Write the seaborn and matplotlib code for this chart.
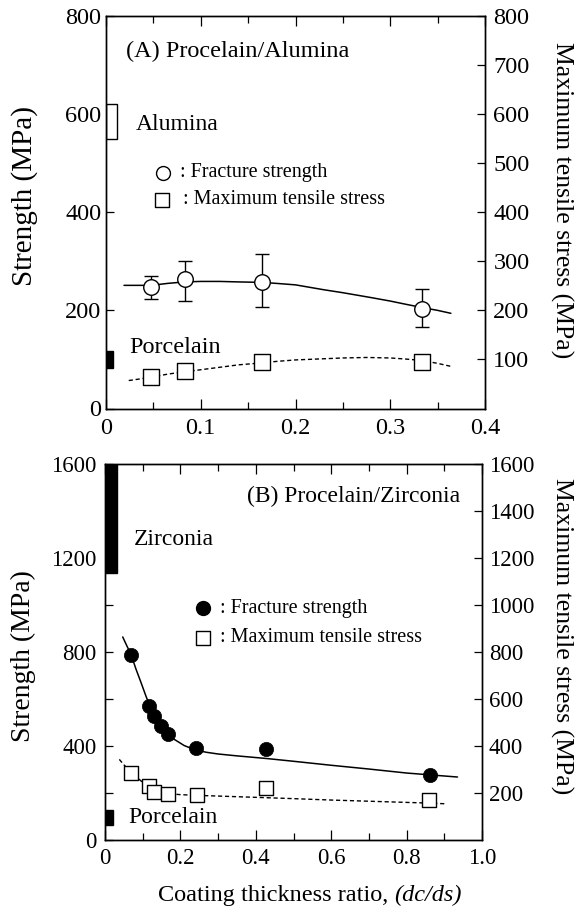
import matplotlib
matplotlib.use("Agg")
import matplotlib.pyplot as plt
import seaborn as sns
import numpy as np
from matplotlib.ticker import MultipleLocator

# ---------------- data ----------------
# Panel A: Porcelain / Alumina
A_x = [0.048, 0.083, 0.165, 0.333]
A_strength = [248, 263, 257, 203]
A_upper = [270, 301, 314, 243]
A_lower = [224, 219, 207, 166]
A_stress = [65, 76, 95, 94]
A_fit_x = [0.019, 0.035, 0.048, 0.065, 0.083, 0.10, 0.12, 0.14, 0.165, 0.18, 0.20, 0.215, 0.23,
           0.25, 0.265, 0.28, 0.30, 0.315, 0.333, 0.35, 0.364]
A_fit_y = [251, 251, 251, 255, 258, 259, 259, 258, 257, 255, 252, 247, 242,
           236, 231, 226, 219, 213, 206, 200, 194]
A_dash_x = [0.024, 0.035, 0.048, 0.065, 0.083, 0.10, 0.12, 0.14, 0.165, 0.18, 0.20, 0.225,
            0.25, 0.275, 0.30, 0.315, 0.333, 0.35, 0.366]
A_dash_y = [57, 60, 64, 70, 75, 79, 84, 89, 93, 96, 99, 101,
            103, 104, 103, 101, 98, 92, 85]
A_mat_low = [550, 83]
A_mat_high = [620, 117]

# Panel B: Porcelain / Zirconia
B_x = [0.069, 0.118, 0.131, 0.149, 0.166, 0.241, 0.427, 0.863]
B_strength = [788, 571, 528, 485, 450, 391, 388, 277]
B_sq_x = [0.069, 0.118, 0.131, 0.168, 0.244, 0.427, 0.860]
B_stress = [286, 228, 205, 197, 191, 220, 171]
B_fit_x = [0.047, 0.058, 0.069, 0.082, 0.096, 0.108, 0.118, 0.131, 0.149, 0.166, 0.184, 0.21,
           0.241, 0.27, 0.30, 0.35, 0.427, 0.50, 0.60, 0.70, 0.80, 0.863, 0.935]
B_fit_y = [864, 826, 790, 728, 668, 615, 573, 528, 484, 450, 428, 402,
           382, 373, 366, 358, 347, 335, 318, 302, 285, 277, 268]
B_dash_x = [0.038, 0.05, 0.069, 0.085, 0.10, 0.115, 0.13, 0.15, 0.168, 0.20, 0.244, 0.30,
            0.427, 0.50, 0.60, 0.70, 0.80, 0.86, 0.905]
B_dash_y = [343, 320, 290, 266, 245, 227, 212, 203, 197, 193, 190, 187,
            180, 176, 170, 165, 160, 157, 154]
B_mat_low = [1135, 64]
B_mat_high = [1600, 128]

# ---------------- styling ----------------
sns.set_theme(style="ticks")
plt.rcParams["font.family"] = ["Liberation Serif", "DejaVu Serif"]
plt.rcParams["axes.linewidth"] = 1.0
plt.rcParams["axes.edgecolor"] = "black"
plt.rcParams["text.color"] = "black"
plt.rcParams["axes.labelcolor"] = "black"
plt.rcParams["xtick.color"] = "black"
plt.rcParams["ytick.color"] = "black"

W, H = 576, 911
fig = plt.figure(figsize=(W / 100, H / 100), dpi=100)
ax1 = fig.add_axes([106 / W, 1 - 408.5 / H, 379 / W, 392.5 / H])
ax2 = fig.add_axes([105 / W, 1 - 840 / H, 377 / W, 376 / H])

k = "black"

# ---------------- panel A ----------------
ax1.set_xlim(0, 0.4)
ax1.set_ylim(0, 800)
ax1.bar([0, 0], np.array(A_mat_high) - np.array(A_mat_low), bottom=A_mat_low,
        width=[0.0118, 0.0075], align="edge", color=["white", "black"],
        edgecolor="black", linewidth=1.0, zorder=2)
sns.lineplot(x=A_fit_x, y=A_fit_y, ax=ax1, color=k, linewidth=1.1, zorder=2)
sns.lineplot(x=A_dash_x, y=A_dash_y, ax=ax1, color=k, linewidth=1.0,
             linestyle=(0, (3, 2)), zorder=2)
yerr = [np.array(A_strength) - np.array(A_lower), np.array(A_upper) - np.array(A_strength)]
ax1.errorbar(A_x, A_strength, yerr=yerr, fmt="none", ecolor=k, elinewidth=1.0,
             capsize=5, capthick=1.0, zorder=3)
sns.scatterplot(x=A_x, y=A_strength, ax=ax1, marker="o", s=125, facecolor="white",
                edgecolor=k, linewidth=1.0, zorder=4)
sns.scatterplot(x=A_x, y=A_stress, ax=ax1, marker="s", s=120, facecolor="white",
                edgecolor=k, linewidth=1.0, zorder=4)

ax1.set_xticks([0, 0.1, 0.2, 0.3, 0.4])
ax1.set_xticklabels(["0", "0.1", "0.2", "0.3", "0.4"])
ax1.xaxis.set_minor_locator(MultipleLocator(0.05))
ax1.set_yticks([0, 200, 400, 600, 800])
ax1.tick_params(axis="x", which="both", direction="in", top=True, labelsize=17.5, pad=6.5,
                width=0.9, color=k)
ax1.tick_params(axis="x", which="major", length=7)
ax1.tick_params(axis="x", which="minor", length=5)
ax1.tick_params(axis="y", which="both", direction="in", labelsize=17.5, pad=3.5,
                length=6, width=0.9)
ax1r = ax1.twinx()
ax1r.set_ylim(0, 800)
ax1r.set_yticks([100, 200, 300, 400, 500, 600, 700, 800])
ax1r.tick_params(axis="y", direction="in", labelsize=17.5, pad=6, length=6, width=0.9)
ax1r.set_ylabel("")

ax1.text(0.0215, 727, "(A) Procelain/Alumina", fontsize=17.5, ha="left", va="center")
ax1.text(0.031, 578, "Alumina", fontsize=17, ha="left", va="center")
ax1.text(0.0243, 125, "Porcelain", fontsize=17.5, ha="left", va="center")
ax1.scatter([0.060], [480], s=100, marker="o", facecolor="white", edgecolor=k, linewidth=1.0)
ax1.text(0.0776, 480, ": Fracture strength", fontsize=14.5, ha="left", va="center")
ax1.scatter([0.0586], [425], s=90, marker="s", facecolor="white", edgecolor=k, linewidth=1.0)
ax1.text(0.0813, 425, ": Maximum tensile stress", fontsize=14.5, ha="left", va="center")

fig.text(24.5 / W, 1 - 196.5 / H, "Strength (MPa)", rotation=90, fontsize=21,
         ha="center", va="center")
fig.text(562 / W, 1 - 200 / H, "Maximum tensile stress (MPa)", rotation=270, fontsize=18.5,
         ha="center", va="center")

# ---------------- panel B ----------------
ax2.set_xlim(0, 1.0)
ax2.set_ylim(0, 1600)
ax2.bar([0, 0], np.array(B_mat_high) - np.array(B_mat_low), bottom=B_mat_low,
        width=[0.032, 0.021], align="edge", color=["black", "black"],
        edgecolor="black", linewidth=1.0, zorder=2)
sns.lineplot(x=B_fit_x, y=B_fit_y, ax=ax2, color=k, linewidth=1.1, zorder=2)
sns.lineplot(x=B_dash_x, y=B_dash_y, ax=ax2, color=k, linewidth=1.0,
             linestyle=(0, (3, 2)), zorder=2)
sns.scatterplot(x=B_sq_x, y=B_stress, ax=ax2, marker="s", s=95, facecolor="white",
                edgecolor=k, linewidth=1.0, zorder=3)
sns.scatterplot(x=B_x, y=B_strength, ax=ax2, marker="o", s=105, color=k,
                edgecolor=k, linewidth=0.5, zorder=4)

ax2.set_xticks([0, 0.2, 0.4, 0.6, 0.8, 1.0])
ax2.set_xticklabels(["0", "0.2", "0.4", "0.6", "0.8", "1.0"])
ax2.xaxis.set_minor_locator(MultipleLocator(0.1))
ax2.set_yticks([0, 400, 800, 1200, 1600])
ax2.yaxis.set_minor_locator(MultipleLocator(200))
ax2.tick_params(axis="x", which="both", direction="in", top=True, labelsize=16.5, pad=6,
                width=0.9)
ax2.tick_params(axis="x", which="major", length=7)
ax2.tick_params(axis="x", which="minor", length=5)
ax2.tick_params(axis="y", which="both", direction="in", labelsize=16.5, pad=6,
                length=6, width=0.9)
ax2r = ax2.twinx()
ax2r.set_ylim(0, 1600)
ax2r.set_yticks([200, 400, 600, 800, 1000, 1200, 1400, 1600])
ax2r.tick_params(axis="y", direction="in", labelsize=16.5, pad=5, length=6, width=0.9)
ax2r.set_ylabel("")

ax2.text(0.941, 1460, "(B) Procelain/Zirconia", fontsize=17, ha="right", va="center")
ax2.text(0.076, 1277, "Zirconia", fontsize=17, ha="left", va="center")
ax2.text(0.061, 94, "Porcelain", fontsize=17, ha="left", va="center")
ax2.scatter([0.26], [987], s=100, marker="o", color=k)
ax2.text(0.3045, 987, ": Fracture strength", fontsize=14.5, ha="left", va="center")
ax2.scatter([0.26], [860], s=90, marker="s", facecolor="white", edgecolor=k, linewidth=1.0)
ax2.text(0.3045, 860, ": Maximum tensile stress", fontsize=14.5, ha="left", va="center")

# x-axis title: plain part followed directly by the italic part
t1 = fig.text(158 / W, 1 - 896 / H, "Coating thickness ratio, ", fontsize=17.5,
              ha="left", va="center")
ax2.annotate("(dc/ds)", xy=(1, 0), xycoords=t1, fontsize=17.5, fontstyle="italic",
             ha="left", va="bottom", annotation_clip=False)

fig.text(23 / W, 1 - 656.5 / H, "Strength (MPa)", rotation=90, fontsize=20,
         ha="center", va="center")
fig.text(562 / W, 1 - 636.5 / H, "Maximum tensile stress (MPa)", rotation=270, fontsize=18.5,
         ha="center", va="center")

for a in (ax1, ax2, ax1r, ax2r):
    for sp in a.spines.values():
        sp.set_visible(True)
        sp.set_color(k)
        sp.set_linewidth(1.0)

fig.savefig("out.png", dpi=100)
